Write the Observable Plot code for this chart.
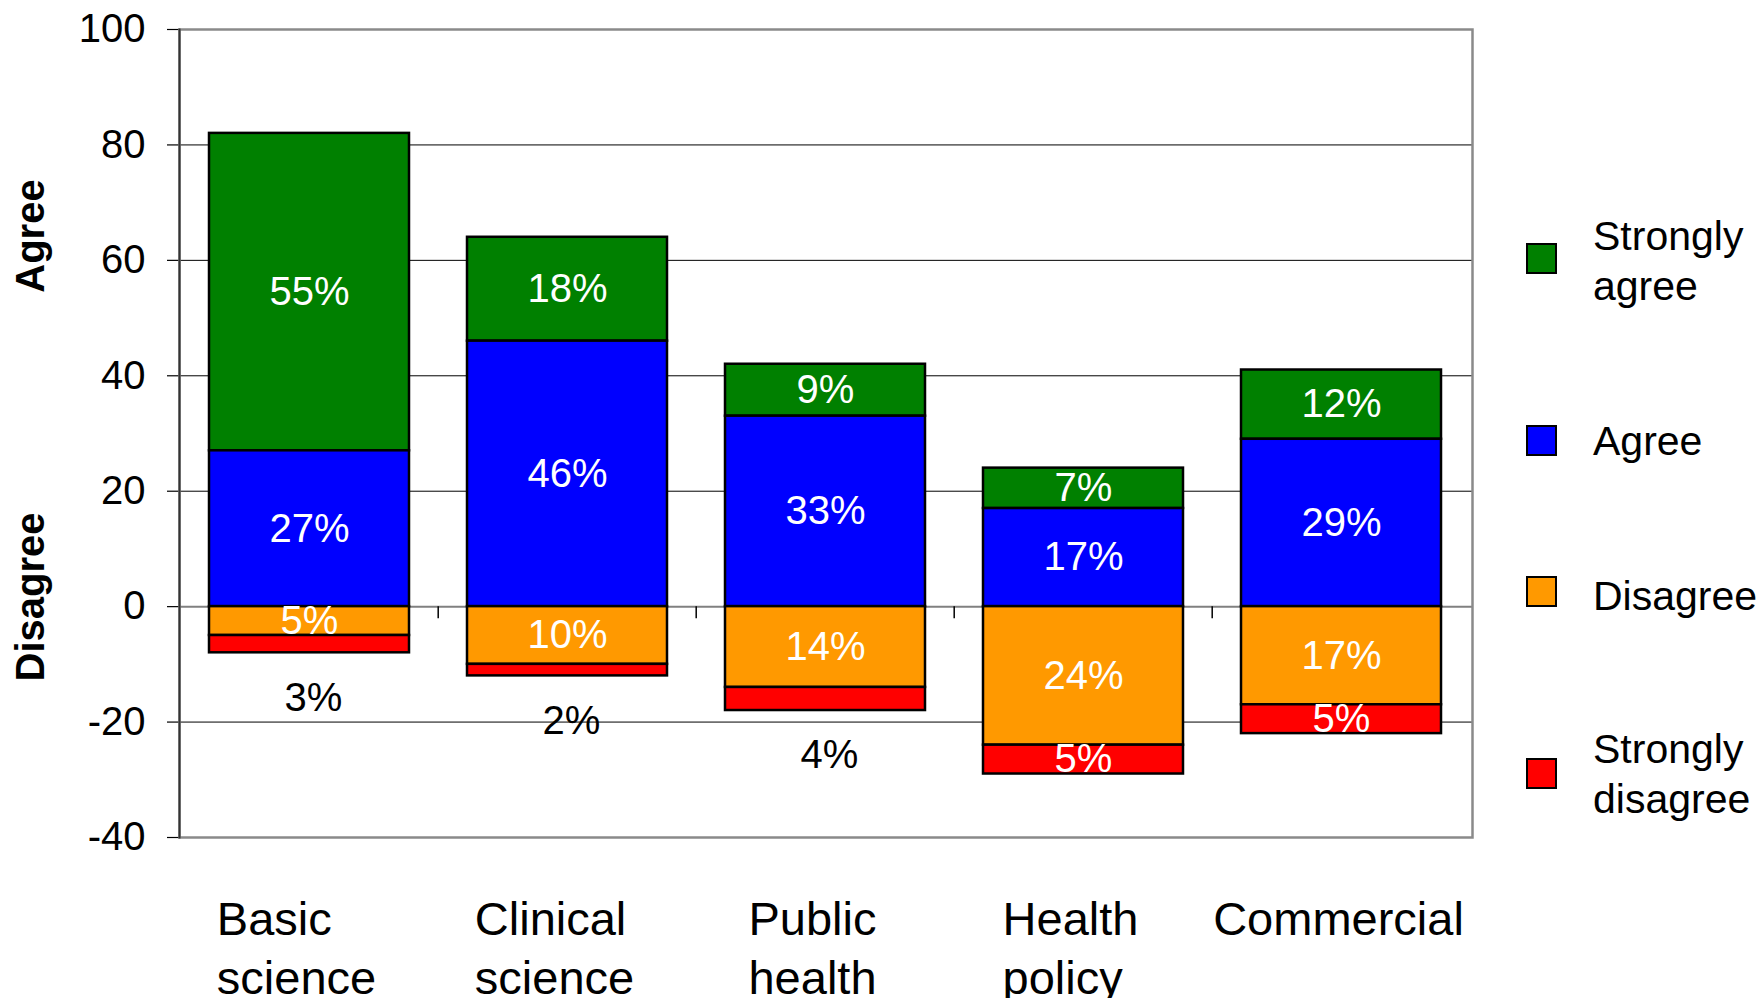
<!DOCTYPE html>
<html>
<head>
<meta charset="utf-8">
<script src="https://cdn.jsdelivr.net/npm/d3@7"></script>
<script src="https://cdn.jsdelivr.net/npm/@observablehq/plot@0.6"></script>
<style>
  body { margin: 0; background: #fff; font-family: "Liberation Sans", Arial, sans-serif; }
  #wrap { position: relative; width: 1764px; height: 998px; overflow: hidden; background: #fff; }
  #wrap svg { position: absolute; left: 0; top: 0; }
  .sw { position: absolute; left: 1526px; width: 27px; height: 27px; border: 2px solid #000; }
  .lt { position: absolute; left: 1593px; font-size: 41px; line-height: 50px; color: #000; white-space: pre; }
  .ttl { position: absolute; left: 0; top: 0; font-size: 40px; font-weight: bold; color: #000; white-space: nowrap; line-height: 1.15; }
</style>
</head>
<body>
<div id="wrap"></div>
<script>
// ---- data ----
const categories = ["Basic science", "Clinical science", "Public health", "Health policy", "Commercial"];
const categoryLines = [["Basic", "science"], ["Clinical", "science"], ["Public", "health"], ["Health", "policy"], ["Commercial"]];
const responses = ["Strongly agree", "Agree", "Disagree", "Strongly disagree"];
const legendLines = ["Strongly\nagree", "Agree", "Disagree", "Strongly\ndisagree"];
const colors = ["#008000", "#0000FF", "#FF9900", "#FF0000"];
const stronglyAgree = [55, 18, 9, 7, 12];
const agree = [27, 46, 33, 17, 29];
const disagree = [5, 10, 14, 24, 17];
const stronglyDisagree = [3, 2, 4, 5, 5];
const yTicks = [-40, -20, 0, 20, 40, 60, 80, 100];
const stackOrder = ["Agree", "Strongly agree", "Disagree", "Strongly disagree"];
const negativeResponses = ["Disagree", "Strongly disagree"];

// ---- build table ----
const seriesValues = [stronglyAgree, agree, disagree, stronglyDisagree];
const rows = [];
categories.forEach((c, i) => {
  responses.forEach((r, j) => {
    const v = seriesValues[j][i];
    rows.push({category: c, response: r, value: v, signed: negativeResponses.includes(r) ? -v : v});
  });
});
const isOutside = d => d.value < 5;

// ---- layout ----
const W = 1764, H = 998;
const mL = 179, mR = 292, mT = 29, mB = 161;
const step = (W - mL - mR) / categories.length;

const canvas = document.createElement("canvas");
const ctx = canvas.getContext("2d");
ctx.font = "47px 'Liberation Sans', Arial, sans-serif";

const categoryMarks = categories.map((c, i) => {
  const lines = categoryLines[i];
  const maxW = Math.max(...lines.map(l => ctx.measureText(l).width));
  const multi = lines.length > 1;
  return Plot.text([c], {
    x: d => d,
    text: () => lines.join("\n"),
    frameAnchor: "bottom",
    lineAnchor: "top",
    lineHeight: 1.25,
    dy: 56,
    textAnchor: multi ? "start" : "middle",
    dx: multi ? -maxW / 2 - 13 : -3,
    fontSize: 47,
    fill: "black"
  });
});

const plot = Plot.plot({
  width: W, height: H,
  marginLeft: mL, marginRight: mR, marginTop: mT, marginBottom: mB,
  style: {fontFamily: "'Liberation Sans', Arial, sans-serif", fontSize: "40px", background: "transparent", color: "black"},
  x: {domain: categories, paddingInner: 0.223, paddingOuter: 0.1115, axis: null},
  y: {domain: [-40, 100], axis: null},
  color: {domain: responses, range: colors},
  marks: [
    Plot.ruleY(yTicks.filter(t => t !== 0), {stroke: "black", strokeWidth: 1}),
    Plot.ruleY([0], {stroke: "#808080", strokeWidth: 2}),
    Plot.ruleX(categories.slice(1), {x: d => d, y1: 0, y2: 0, insetBottom: -12, dx: -step / 2, stroke: "black", strokeWidth: 1.5}),
    Plot.axisY({ticks: yTicks, tickSize: 12, tickPadding: 22, tickFormat: d => String(d), label: null, fontSize: 40, stroke: "black", strokeWidth: 1.2}),
    Plot.frame({stroke: "#8a8a8a", strokeWidth: 2.5}),
    Plot.frame({anchor: "left", stroke: "#333", strokeWidth: 2}),
    Plot.barY(rows, {x: "category", y: "signed", fill: "response", order: stackOrder, stroke: "black", strokeWidth: 2.5}),
    Plot.text(rows, Plot.stackY({
      x: "category", y: "signed", z: "response", order: stackOrder,
      text: d => isOutside(d) ? "" : `${d.value}%`,
      fill: "white", fontSize: 40
    })),
    Plot.text(rows, Plot.stackY2({
      x: "category", y: "signed", z: "response", order: stackOrder,
      text: d => isOutside(d) ? `${d.value}%` : "",
      fill: "black", fontSize: 40, dy: 45, dx: 4
    })),
    ...categoryMarks
  ]
});

const wrap = document.getElementById("wrap");
wrap.appendChild(plot);

// ---- legend ----
const swatchTops = [243, 425, 576, 758];
const textTops = [211, 416, 571, 724];
responses.forEach((r, i) => {
  const sw = document.createElement("div");
  sw.className = "sw";
  sw.style.top = swatchTops[i] + "px";
  sw.style.background = colors[i];
  wrap.appendChild(sw);
  const t = document.createElement("div");
  t.className = "lt";
  t.style.top = textTops[i] + "px";
  t.textContent = legendLines[i];
  wrap.appendChild(t);
});

// ---- axis titles ----
const titles = [["Agree", 30, 236], ["Disagree", 30, 597]];
titles.forEach(([txt, cx, cy]) => {
  const d = document.createElement("div");
  d.className = "ttl";
  d.textContent = txt;
  d.style.transform = `translate(${cx}px, ${cy}px) translate(-50%, -50%) rotate(-90deg)`;
  wrap.appendChild(d);
});
</script>
</body>
</html>
